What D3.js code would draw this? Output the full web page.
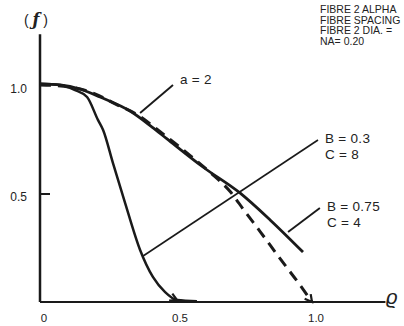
<!DOCTYPE html>
<html><head><meta charset="utf-8">
<script src="https://cdn.jsdelivr.net/npm/d3@7"></script>
<style>
html,body{margin:0;padding:0;background:#fff;overflow:hidden;}
svg{display:block;}
text{font-family:"Liberation Sans",Arial,sans-serif;fill:#222;}
</style></head>
<body>
<svg id="chart" width="404" height="326"></svg>
<script>
// ---- data ----
const xTicks = [0, 0.5, 1.0];
const xTickLabels = ["0", "0.5", "1.0"];
const yTicks = [0.5, 1.0];
const yTickLabels = ["0.5", "1.0"];

// B = 0.75, C = 4 (solid, flat)
const curveB075_x = [0, 0.074, 0.147, 0.221, 0.331, 0.412, 0.467, 0.599, 0.735, 0.846, 0.967];
const curveB075_y = [1.01, 1.005, 0.986, 0.949, 0.884, 0.81, 0.755, 0.625, 0.505, 0.38, 0.231];

// a = 2 (dashed)
const curveA2_x = [0, 0.11, 0.2, 0.28, 0.36, 0.43, 0.55, 0.63, 0.70, 0.75, 0.81, 0.88, 0.955, 1.0];
const curveA2_y = [1.005, 0.995, 0.965, 0.915, 0.865, 0.80, 0.68, 0.595, 0.51, 0.425, 0.325, 0.205, 0.08, 0.0];

// B = 0.3, C = 8 (solid, steep)
const curveB03_x = [0, 0.074, 0.129, 0.173, 0.213, 0.232, 0.268, 0.313, 0.368, 0.415, 0.46, 0.504, 0.577];
const curveB03_y = [1.01, 1.005, 0.981, 0.949, 0.843, 0.796, 0.644, 0.458, 0.241, 0.116, 0.046, 0.009, 0.004];

// annotations (data units)
const labelNames = ["a = 2", "B = 0.3|C = 8", "B = 0.75|C = 4"];
const leaderFrom = [[0.368, 0.875], [0.379, 0.213], [0.912, 0.324]];
const leaderTo   = [[0.489, 1.005], [1.022, 0.750], [1.029, 0.435]];

const legendLines = ["FIBRE 2 ALPHA", "FIBRE SPACING", "FIBRE 2 DIA. =", "NA= 0.20"];

// ---- drawing ----
const svg = d3.select("#chart");
const x = d3.scaleLinear().domain([0, 1]).range([40, 312]);
const y = d3.scaleLinear().domain([0, 1]).range([302, 86]);

const zip = (xs, ys) => xs.map((v, i) => [v, ys[i]]);
const line = d3.line().x(d => x(d[0])).y(d => y(d[1])).curve(d3.curveMonotoneX);

// axes
svg.append("line").attr("x1", x(0)).attr("x2", x(0)).attr("y1", y(1.24)).attr("y2", y(0))
  .attr("stroke", "#1a1a1a").attr("stroke-width", 2.5);
svg.append("line").attr("x1", x(0)).attr("x2", x(1.27)).attr("y1", y(0)).attr("y2", y(0))
  .attr("stroke", "#1a1a1a").attr("stroke-width", 2);

// y ticks
svg.selectAll(".ytick").data(yTicks.filter(v => v < 1)).enter().append("line")
  .attr("x1", x(0)).attr("x2", x(0) + 10).attr("y1", d => y(d)).attr("y2", d => y(d))
  .attr("stroke", "#1a1a1a").attr("stroke-width", 2);
svg.selectAll(".ylab").data(yTicks).enter().append("text")
  .attr("x", 27).attr("y", d => y(d) + 7).attr("text-anchor", "end")
  .attr("font-size", 12).text((d, i) => yTickLabels[i]);

// x tick labels
svg.selectAll(".xlab").data(xTicks).enter().append("text")
  .attr("x", d => x(d) + 4).attr("y", 322).attr("text-anchor", "middle")
  .attr("font-size", 11.5).text((d, i) => xTickLabels[i]);

// axis titles
const yt = svg.append("text").attr("x", 36).attr("y", 25).attr("text-anchor", "middle").attr("font-size", 14);
yt.append("tspan").text("( ");
yt.append("tspan").attr("font-family", "DejaVu Serif, serif").attr("font-style", "italic")
  .attr("font-weight", "bold").attr("font-size", 16).text("ƒ");
yt.append("tspan").text(" )");
svg.append("text").attr("x", 386).attr("y", 304).attr("font-family", "DejaVu Serif, serif")
  .attr("font-style", "italic").attr("font-size", 20).text("ϱ");

// curves
svg.append("path").datum(zip(curveB075_x, curveB075_y)).attr("d", line)
  .attr("fill", "none").attr("stroke", "#1a1a1a").attr("stroke-width", 2.8);
svg.append("path").datum(zip(curveB03_x, curveB03_y)).attr("d", line)
  .attr("fill", "none").attr("stroke", "#1a1a1a").attr("stroke-width", 2.5);
svg.append("path").datum(zip(curveA2_x, curveA2_y)).attr("d", line)
  .attr("fill", "none").attr("stroke", "#1a1a1a").attr("stroke-width", 3)
  .attr("stroke-dasharray", "11,7");

// arrowheads at curve ends on axis
function arrowHead(px, py, angleDeg) {
  const a = angleDeg * Math.PI / 180, L = 8, s = 0.5;
  const p1 = [px - L * Math.cos(a - s), py - L * Math.sin(a - s)];
  const p2 = [px - L * Math.cos(a + s), py - L * Math.sin(a + s)];
  svg.append("path").attr("d", `M${p1[0]},${p1[1]}L${px},${py}L${p2[0]},${p2[1]}`)
    .attr("fill", "none").attr("stroke", "#1a1a1a").attr("stroke-width", 2.2);
}
const nA = curveA2_x.length - 1;
arrowHead(x(curveA2_x[nA]), y(curveA2_y[nA]), 52);
arrowHead(x(curveB03_x[11]), y(curveB03_y[11]), 25);

// leader lines
leaderFrom.forEach((f, i) => {
  svg.append("line").attr("x1", x(f[0])).attr("y1", y(f[1]))
    .attr("x2", x(leaderTo[i][0])).attr("y2", y(leaderTo[i][1]))
    .attr("stroke", "#1a1a1a").attr("stroke-width", i === 1 ? 1.6 : 1.9);
});

// annotation labels
labelNames.forEach((name, i) => {
  const parts = name.split("|");
  const t = leaderTo[i];
  const bx = x(t[0]) + 7;
  const by = y(t[1]) + (i === 0 ? -1 : 3);
  parts.forEach((p, j) => {
    svg.append("text").attr("x", bx).attr("y", by + j * 15.5).attr("font-size", 13.5)
      .attr("letter-spacing", 0.3).attr("fill", "#333").text(p);
  });
});

// legend (top-right, runs off the edge as in the original)
legendLines.forEach((s, i) => {
  svg.append("text").attr("x", 320).attr("y", 13 + i * 10.7).attr("font-size", 10.5)
    .attr("fill", "#333").text(s);
});
</script>
</body></html>
